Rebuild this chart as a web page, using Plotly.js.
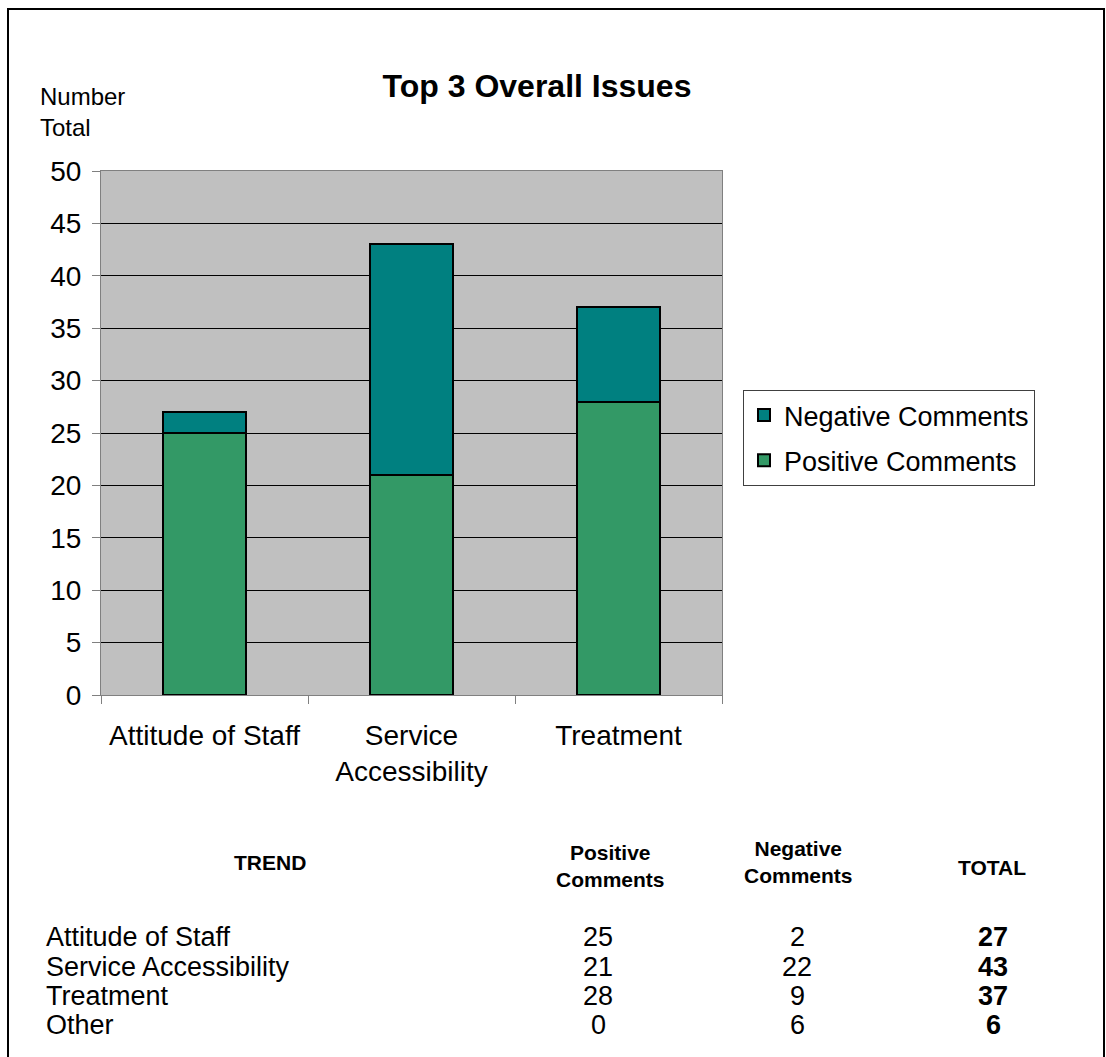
<!DOCTYPE html>
<html>
<head>
<meta charset="utf-8">
<script src="https://cdn.plot.ly/plotly-3.0.1.min.js"></script>
<style>
html,body{margin:0;padding:0;background:#fff;}
#chart{width:1106px;height:1057px;}
</style>
</head>
<body>
<div id="chart"></div>
<script>
// Data
var categories = ["Attitude of Staff", "Service<br>Accessibility", "Treatment"];
var positiveComments = [25, 21, 28];
var negativeComments = [2, 22, 9];

var tableTrends = ["Attitude of Staff", "Service Accessibility", "Treatment", "Other"];
var tablePositive = [25, 21, 28, 0];
var tableNegative = [2, 22, 9, 6];
var tableTotal = [27, 43, 37, 6];
var tableHeaders = ["TREND", "Positive<br>Comments", "Negative<br>Comments", "TOTAL"];

var FONT = "Liberation Sans, Arial, sans-serif";

// plot area in pixels
var W = 1106, H = 1057;
var L = 101, R = 722, T = 171, B = 695;
function px(x) { return (x - L) / (R - L); }
function py(y) { return (B - y) / (B - T); }

var traces = [
  {
    type: "bar", name: "Positive Comments", x: categories, y: positiveComments,
    legendgroup: "pos", legendrank: 2,
    marker: {color: "#339966", line: {color: "#000000", width: 2}}
  },
  {
    type: "bar", name: "Negative Comments", x: categories, y: negativeComments,
    legendgroup: "neg", legendrank: 1,
    marker: {color: "#008080", line: {color: "#000000", width: 2}}
  }
];

var annotations = [];
annotations.push({
  text: "Number<br>Total", xref: "paper", yref: "paper",
  x: px(38), y: py(81), xanchor: "left", yanchor: "top", align: "left",
  showarrow: false, font: {family: FONT, size: 24, color: "#000"}
});

// table header
var headerX = [270, 610, 798, 992];
var headerY = [862, 866, 862, 867];
for (var i = 0; i < tableHeaders.length; i++) {
  annotations.push({
    text: "<b>" + tableHeaders[i] + "</b>", xref: "paper", yref: "paper",
    x: px(headerX[i]), y: py(headerY[i]), xanchor: "center", yanchor: "middle",
    align: "center", showarrow: false,
    font: {family: FONT, size: 21, color: "#000"}
  });
}
var rowY = [937, 967, 996, 1025];
for (var r = 0; r < tableTrends.length; r++) {
  annotations.push({
    text: tableTrends[r], xref: "paper", yref: "paper", x: px(44), y: py(rowY[r]),
    xanchor: "left", yanchor: "middle", showarrow: false,
    font: {family: FONT, size: 27, color: "#000"}
  });
  annotations.push({
    text: String(tablePositive[r]), xref: "paper", yref: "paper", x: px(598), y: py(rowY[r]),
    xanchor: "center", yanchor: "middle", showarrow: false,
    font: {family: FONT, size: 27, color: "#000"}
  });
  annotations.push({
    text: String(tableNegative[r]), xref: "paper", yref: "paper", x: px(797), y: py(rowY[r]),
    xanchor: "center", yanchor: "middle", showarrow: false,
    font: {family: FONT, size: 27, color: "#000"}
  });
  annotations.push({
    text: "<b>" + tableTotal[r] + "</b>", xref: "paper", yref: "paper", x: px(993), y: py(rowY[r]),
    xanchor: "center", yanchor: "middle", showarrow: false,
    font: {family: FONT, size: 27, color: "#000"}
  });
}

var layout = {
  width: W, height: H,
  margin: {l: L, r: W - R, t: T, b: H - B, pad: 0},
  paper_bgcolor: "#ffffff",
  plot_bgcolor: "#C0C0C0",
  barmode: "stack",
  bargap: 0.6,
  font: {family: FONT, size: 28, color: "#000"},
  title: {
    text: "<b>Top 3 Overall Issues</b>", font: {family: FONT, size: 32, color: "#000"},
    xref: "container", x: 537 / W, xanchor: "center",
    yref: "container", y: 1 - 86 / H, yanchor: "middle"
  },
  xaxis: {
    type: "category", showgrid: false, zeroline: false,
    showline: true, linecolor: "#808080", linewidth: 1, mirror: true,
    ticks: "outside", tickson: "boundaries", ticklen: 8, tickcolor: "#808080",
    ticklabelstandoff: 15,
    tickfont: {family: FONT, size: 28, color: "#000"}
  },
  yaxis: {
    range: [0, 50], dtick: 5, tick0: 0,
    showgrid: true, gridcolor: "#000000", gridwidth: 1,
    zeroline: false, showline: true, linecolor: "#808080", linewidth: 1, mirror: true,
    ticks: "outside", ticklen: 8, tickcolor: "#808080",
    ticklabelstandoff: 5,
    tickfont: {family: FONT, size: 28, color: "#000"}
  },
  legend: {
    x: px(743), y: py(390), xanchor: "left", yanchor: "top",
    traceorder: "grouped", tracegroupgap: 7,
    bgcolor: "#ffffff", bordercolor: "#404040", borderwidth: 1,
    font: {family: FONT, size: 27, color: "#000"}
  },
  shapes: [{
    type: "rect", xref: "paper", yref: "paper",
    x0: px(8), x1: px(1104), y0: py(1070), y1: py(9),
    line: {color: "#000000", width: 2}, fillcolor: "rgba(0,0,0,0)", layer: "below"
  }],
  annotations: annotations,
  showlegend: true
};

Plotly.newPlot("chart", traces, layout, {displayModeBar: false, staticPlot: true});
</script>
</body>
</html>
